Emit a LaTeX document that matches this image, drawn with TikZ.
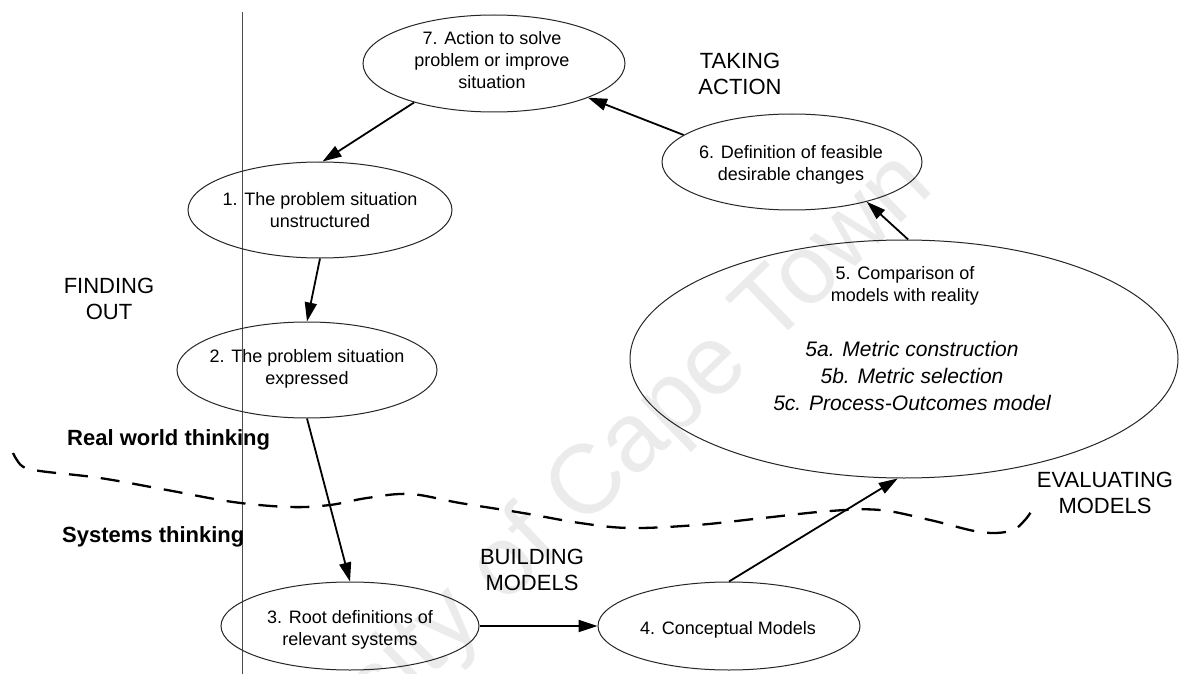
\documentclass[tikz,border=0pt]{standalone}
\usepackage{fontspec}
\setmainfont{Liberation Sans}
\usetikzlibrary{arrows.meta,shapes.geometric}

\begin{document}
\begin{tikzpicture}[x=1pt,y=-1pt,
  bubble/.style={draw=black!85, line width=1pt, ellipse, inner sep=0pt},
  btext/.style={align=center, inner sep=0pt, font=\fontsize{18}{22}\selectfont},
  itext/.style={align=center, inner sep=0pt, font=\fontsize{21}{27}\selectfont\itshape},
  caps/.style={align=center, inner sep=0pt, font=\fontsize{22}{26}\selectfont},
  bold/.style={anchor=west, inner sep=0pt, font=\fontsize{22}{26}\selectfont\bfseries},
  flow/.style={line width=1.8pt, draw=black, -{Triangle[length=19pt,width=12pt]}},
  divider/.style={draw=black!70, line width=0.9pt},
  boundary/.style={draw=black, line width=2.3pt, dash pattern=on 19pt off 13pt},
]
\useasboundingbox (0,0) rectangle (1187,674);
\fill[white] (0,0) rectangle (1187,674);

% faint watermark behind the diagram
\begin{scope}
\clip (0,0) rectangle (1187,674);
\node[rotate=44, text=black!8, inner sep=0pt,
      font=\fontsize{98}{98}\selectfont] (wm) at (538,538) {University of Cape Town};
\end{scope}

% vertical rule
\coordinate (vtop) at (242,12);
\coordinate (vbot) at (242,674);
\draw[divider] (vtop) -- (vbot);

% boundary between real world and systems thinking
\draw[boundary] plot[smooth, tension=0.6] coordinates {
  (13,453) (22,466) (40,471) (100,478) (167,490) (233,502) (290,507)
  (330,505) (367,498) (410,494) (460,503) (523,513) (580,523) (630,528)
  (697,525) (763,518) (830,511) (880,510) (930,520) (980,532) (1010,531)
  (1025,520) (1035,505)};

% stages
\node[bubble, minimum width=262pt, minimum height=97pt] (e7) at (494,63.5) {};
\node[btext] (t7) at (492,60) {7. Action to solve\\problem or improve\\situation};

\node[bubble, minimum width=260pt, minimum height=96pt] (e6) at (792,162) {};
\node[btext] (t6) at (791,165) {6. Definition of feasible\\desirable changes};

\node[bubble, minimum width=264pt, minimum height=96pt] (e1) at (320,210) {};
\node[btext] (t1) at (320,210) {1. The problem situation\\unstructured};

\node[bubble, minimum width=260pt, minimum height=96pt] (e2) at (307,370) {};
\node[btext] (t2) at (307,369) {2. The problem situation\\expressed};

\node[bubble, minimum width=258pt, minimum height=88pt] (e3) at (350,626) {};
\node[btext] (t3) at (350,630) {3. Root definitions of\\relevant systems};

\node[bubble, minimum width=262pt, minimum height=88pt] (e4) at (729,626) {};
\node[btext] (t4) at (728,630) {4. Conceptual Models};

\node[bubble, minimum width=548pt, minimum height=238pt] (e5) at (904,359) {};
\node[btext] (t5) at (905,286) {5. Comparison of\\models with reality};
\node[itext] (t5x) at (912,376) {5a. Metric construction\\5b. Metric selection\\5c. Process-Outcomes model};

% phase labels
\node[caps] (finding) at (109,299) {FINDING\\OUT};
\node[caps] (taking) at (740,74) {TAKING\\ACTION};
\node[caps] (building) at (532,570) {BUILDING\\MODELS};
\node[caps] (evaluating) at (1105,493) {EVALUATING\\MODELS};

\node[bold] (real) at (67,440) {Real world thinking};
\node[bold] (systems) at (62,537) {Systems thinking};

% cycle
\draw[flow] (e7.206) -- (e1.87);
\draw[flow] (e1.270) -- (e2.90);
\draw[flow] (e2.270) -- (e3.90);
\draw[flow] (e3.east) -- (e4.west);
\draw[flow] (e4.90) -- (e5.267);
\draw[flow] (e5.88) -- (e6.332);
\draw[flow] (e6.166) -- (e7.340);
\end{tikzpicture}
\end{document}
